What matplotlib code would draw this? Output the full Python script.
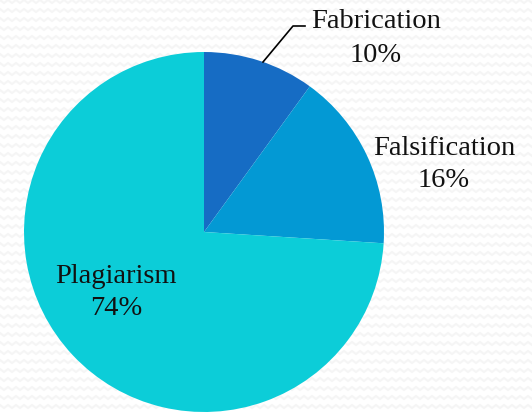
import numpy as np
import matplotlib.pyplot as plt

# data
labels = ['Fabrication', 'Falsification', 'Plagiarism']
shares = [10, 16, 74]
colors = ['#166cc4', '#0399d4', '#0ccdd8']

W, H = 532, 412
cx, cy, R = 204, 232, 180   # pie centre / radius in pixels


def px(x, y):
    # pixel -> data coords (radius 1)
    return (x - cx) / R, (cy - y) / R


fig = plt.figure(figsize=(W / 100, H / 100), dpi=100)
ax = fig.add_axes([0, 0, 1, 1])

# faint zigzag background
for yy in np.arange(0, H + 10, 9):
    xs = np.arange(-8, W + 16, 4)
    ys = yy + np.where((xs // 4) % 2 == 0, 0, 3)
    X, Y = px(xs, ys)
    ax.plot(X, Y, color='#f5f5f5', lw=1.5, zorder=0)

ax.pie(shares, colors=colors, startangle=90, counterclock=False,
       radius=1, center=(0, 0), frame=True,
       wedgeprops=dict(linewidth=0), normalize=True)
ax.set_xlim(-cx / R, (W - cx) / R)
ax.set_ylim((cy - H) / R, cy / R)
ax.set_aspect('equal')
ax.axis('off')

font = dict(family='Liberation Serif', fontsize=20.5, color='#111111',
            ha='center', va='baseline')
pos = {
    'Fabrication': ((376, 28), (376, 62)),
    'Falsification': ((444, 155), (444, 187)),
    'Plagiarism': ((116, 283), (116, 315)),
}
for lab, val in zip(labels, shares):
    (x1, y1), (x2, y2) = pos[lab]
    ax.text(*px(x1, y1), lab, **font)
    ax.text(*px(x2, y2), f'{val}%', **font)

# leader line for Fabrication
lx, ly = px(np.array([263, 293, 305]), np.array([62, 26, 26]))
ax.plot(lx, ly, color='black', lw=1.2)

fig.savefig('out.png', dpi=100)
